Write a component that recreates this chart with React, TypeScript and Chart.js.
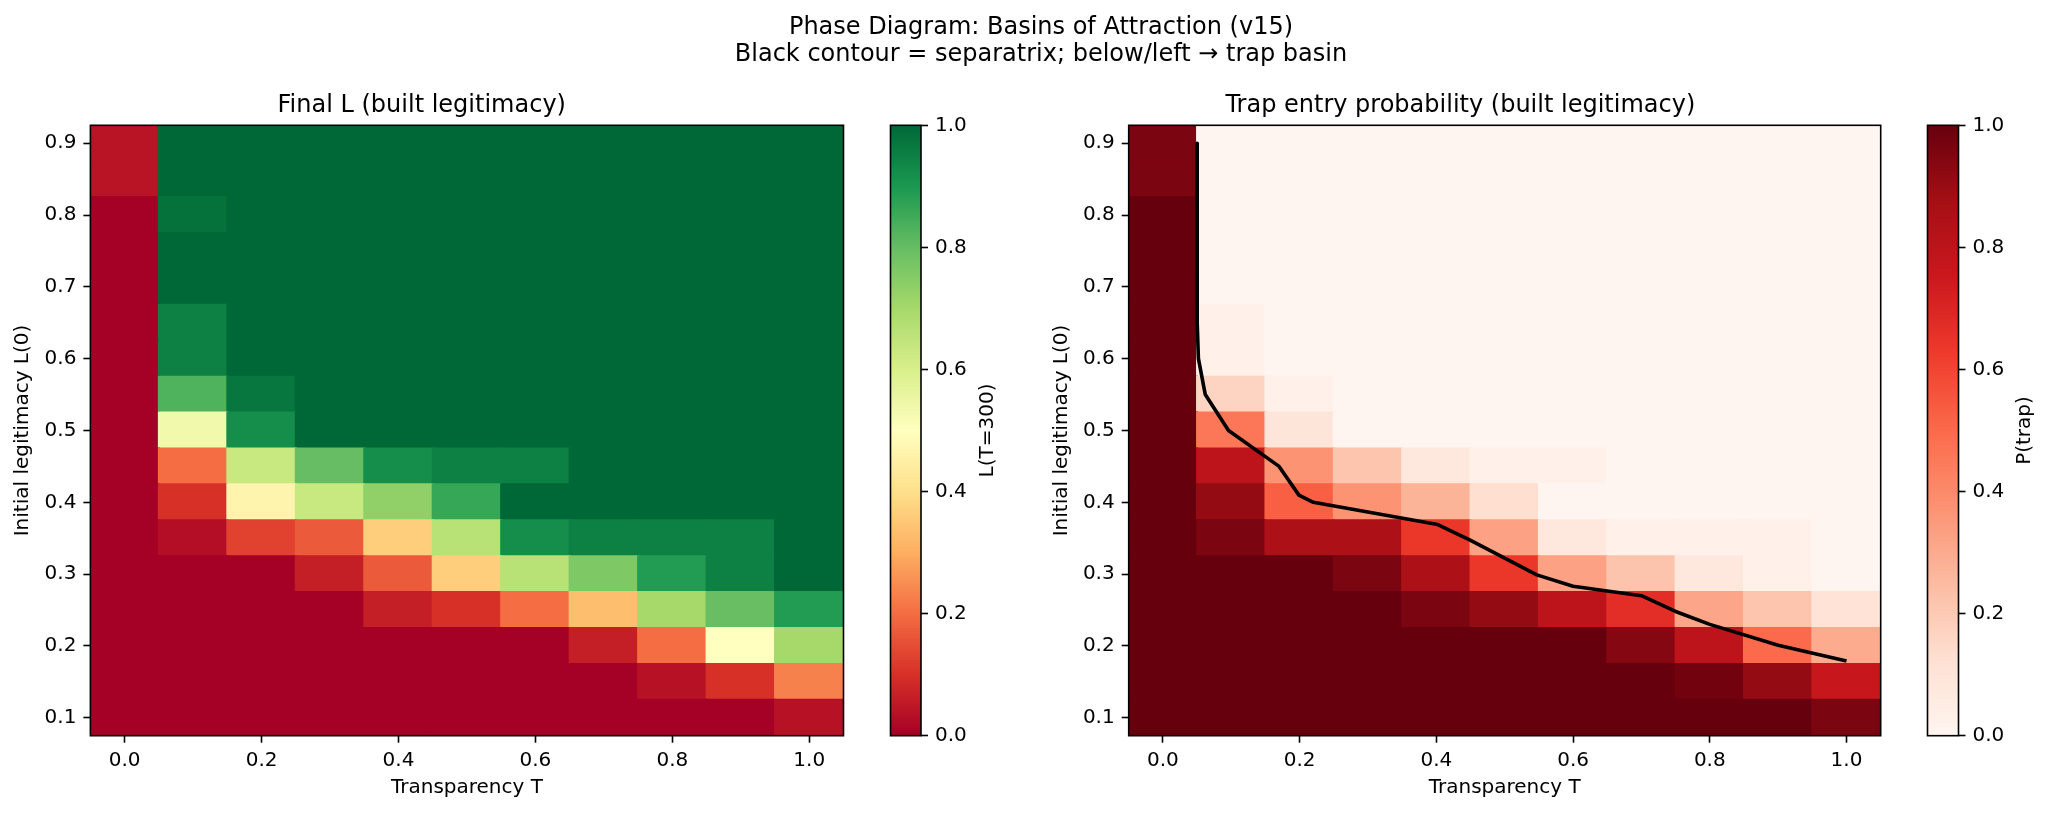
import React, { useEffect, useRef } from 'react';
import { Chart, registerables } from 'chart.js';

Chart.register(...registerables);

const FONT = "'DejaVu Sans', sans-serif";

// ---------- text ----------
const SUPTITLE_LINES = [
  'Phase Diagram: Basins of Attraction (v15)',
  'Black contour = separatrix; below/left \u2192 trap basin',
];
const LEFT_TITLE = 'Final L (built legitimacy)';
const RIGHT_TITLE = 'Trap entry probability (built legitimacy)';
const X_LABEL = 'Transparency T';
const Y_LABEL = 'Initial legitimacy L(0)';
const LEFT_CBAR_LABEL = 'L(T=300)';
const RIGHT_CBAR_LABEL = 'P(trap)';

// ---------- grid / ticks ----------
const T_VALUES = [0.0, 0.1, 0.2, 0.3, 0.4, 0.5, 0.6, 0.7, 0.8, 0.9, 1.0];
const L0_VALUES = [0.1, 0.15, 0.2, 0.25, 0.3, 0.35, 0.4, 0.45, 0.5, 0.55, 0.6, 0.65, 0.7, 0.75, 0.8, 0.85, 0.9];
const X_TICKS = [0.0, 0.2, 0.4, 0.6, 0.8, 1.0];
const Y_TICKS = [0.1, 0.2, 0.3, 0.4, 0.5, 0.6, 0.7, 0.8, 0.9];
const CBAR_TICKS = [0.0, 0.2, 0.4, 0.6, 0.8, 1.0];

// ---------- values (rows from L0 = 0.10 upward; columns T = 0.0 .. 1.0) ----------
const FINAL_L = [
  [0, 0, 0, 0, 0, 0, 0, 0, 0, 0, 0.035],
  [0, 0, 0, 0, 0, 0, 0, 0, 0.035, 0.1, 0.231],
  [0, 0, 0, 0, 0, 0, 0, 0.062, 0.2, 0.5, 0.7],
  [0, 0, 0, 0, 0.062, 0.1, 0.2, 0.332, 0.7, 0.795, 0.89],
  [0, 0, 0, 0.062, 0.169, 0.364, 0.665, 0.762, 0.89, 0.95, 1],
  [0, 0.03, 0.13, 0.169, 0.364, 0.665, 0.92, 0.95, 0.95, 0.95, 1],
  [0, 0.1, 0.465, 0.633, 0.733, 0.863, 1, 1, 1, 1, 1],
  [0, 0.2, 0.633, 0.8, 0.92, 0.95, 0.95, 1, 1, 1, 1],
  [0, 0.537, 0.92, 1, 1, 1, 1, 1, 1, 1, 1],
  [0, 0.83, 0.97, 1, 1, 1, 1, 1, 1, 1, 1],
  [0, 0.95, 1, 1, 1, 1, 1, 1, 1, 1, 1],
  [0, 0.95, 1, 1, 1, 1, 1, 1, 1, 1, 1],
  [0, 1, 1, 1, 1, 1, 1, 1, 1, 1, 1],
  [0, 1, 1, 1, 1, 1, 1, 1, 1, 1, 1],
  [0, 0.98, 1, 1, 1, 1, 1, 1, 1, 1, 1],
  [0.04, 1, 1, 1, 1, 1, 1, 1, 1, 1, 1],
  [0.04, 1, 1, 1, 1, 1, 1, 1, 1, 1, 1],
];

const P_TRAP = [
  [1, 1, 1, 1, 1, 1, 1, 1, 1, 1, 0.96],
  [1, 1, 1, 1, 1, 1, 1, 1, 0.98, 0.91, 0.76],
  [1, 1, 1, 1, 1, 1, 1, 0.94, 0.8, 0.5, 0.3],
  [1, 1, 1, 1, 0.96, 0.91, 0.8, 0.67, 0.317, 0.216, 0.107],
  [1, 1, 1, 0.96, 0.85, 0.64, 0.33, 0.22, 0.077, 0.03, 0],
  [1, 0.96, 0.85, 0.85, 0.64, 0.33, 0.077, 0.03, 0.03, 0.03, 0],
  [1, 0.91, 0.53, 0.37, 0.27, 0.13, 0, 0, 0, 0, 0],
  [1, 0.8, 0.37, 0.216, 0.077, 0.03, 0.03, 0, 0, 0, 0],
  [1, 0.46, 0.095, 0, 0, 0, 0, 0, 0, 0, 0],
  [1, 0.165, 0.03, 0, 0, 0, 0, 0, 0, 0, 0],
  [1, 0.03, 0, 0, 0, 0, 0, 0, 0, 0, 0],
  [1, 0.03, 0, 0, 0, 0, 0, 0, 0, 0, 0],
  [1, 0, 0, 0, 0, 0, 0, 0, 0, 0, 0],
  [1, 0, 0, 0, 0, 0, 0, 0, 0, 0, 0],
  [1, 0, 0, 0, 0, 0, 0, 0, 0, 0, 0],
  [0.96, 0, 0, 0, 0, 0, 0, 0, 0, 0, 0],
  [0.96, 0, 0, 0, 0, 0, 0, 0, 0, 0, 0],
];

// separatrix (P = 0.5 contour)
const CONTOUR_T = [0.05, 0.05, 0.05, 0.05, 0.05, 0.051, 0.052, 0.062, 0.096, 0.17, 0.199, 0.22, 0.402, 0.448, 0.547, 0.6, 0.7, 0.75, 0.8, 0.9, 1.0];
const CONTOUR_L = [0.9, 0.85, 0.8, 0.75, 0.7, 0.65, 0.6, 0.55, 0.5, 0.45, 0.41, 0.4, 0.369, 0.348, 0.299, 0.283, 0.27, 0.248, 0.23, 0.201, 0.179];

// ---------- colormaps ----------
const RDYLGN = ['#a50026', '#d73027', '#f46d43', '#fdae61', '#fee08b', '#ffffbf', '#d9ef8b', '#a6d96a', '#66bd63', '#1a9850', '#006837'];
const REDS = ['#fff5f0', '#fee0d2', '#fcbba1', '#fc9272', '#fb6a4a', '#ef3b2c', '#cb181d', '#a50f15', '#67000d'];

function hexToRgb(h: string) {
  return [parseInt(h.slice(1, 3), 16), parseInt(h.slice(3, 5), 16), parseInt(h.slice(5, 7), 16)];
}
function cmapColor(stops: string[], v: number) {
  const n = stops.length - 1;
  const t = Math.max(0, Math.min(1, v)) * n;
  const i = Math.min(n - 1, Math.floor(t));
  const f = t - i;
  const a = hexToRgb(stops[i]);
  const b = hexToRgb(stops[i + 1]);
  const c = a.map((x, k) => Math.round(x + (b[k] - x) * f));
  return `rgb(${c[0]},${c[1]},${c[2]})`;
}

// ---------- layout (pixels) ----------
const FIG_W = 2049;
const FIG_H = 814;
const AX_TOP = 125.3;
const AX_BOTTOM = 735.7;

const framePlugin = {
  id: 'frame',
  afterDraw(chart: any) {
    const { ctx, chartArea: a } = chart;
    ctx.save();
    ctx.strokeStyle = '#000';
    ctx.lineWidth = 1.6;
    ctx.strokeRect(a.left, a.top, a.right - a.left, a.bottom - a.top);
    ctx.restore();
  },
};

const tickGrid = {
  display: true,
  drawOnChartArea: false,
  drawTicks: true,
  tickLength: 7,
  tickWidth: 1.6,
  tickColor: '#000',
};

function makeHeatmap(p: {
  title: string;
  matrix: number[][];
  stops: string[];
  yAxisWidth: number;
  yTitlePad: number;
  padRight: number;
  contour?: boolean;
}) {
  const dT = T_VALUES[1] - T_VALUES[0];
  const dL = L0_VALUES[1] - L0_VALUES[0];
  const datasets: any[] = [];
  if (p.contour) {
    datasets.push({
      type: 'line',
      data: CONTOUR_T.map((t, i) => ({ x: t, y: CONTOUR_L[i] })),
      borderColor: '#000',
      borderWidth: 3.6,
      pointRadius: 0,
      tension: 0,
      fill: false,
      order: 0,
      borderJoinStyle: 'round',
    });
  }
  L0_VALUES.forEach((l0, r) => {
    datasets.push({
      type: 'bar',
      data: T_VALUES.map((t) => ({ x: t, y: [l0 - dL / 2, l0 + dL / 2] })),
      backgroundColor: p.matrix[r].map((v) => cmapColor(p.stops, v)),
      borderWidth: 0,
      inflateAmount: 1,
      barPercentage: 1,
      categoryPercentage: 1,
      grouped: false,
      order: 1,
    });
  });
  const tickFont = { family: FONT, size: 20 };
  return {
    type: 'bar',
    data: { datasets },
    options: {
      responsive: false,
      animation: false,
      devicePixelRatio: 1,
      events: [],
      layout: { padding: { left: 0, top: 0, right: p.padRight, bottom: 0 } },
      plugins: {
        legend: { display: false },
        tooltip: { enabled: false },
        title: {
          display: true,
          text: p.title,
          color: '#000',
          font: { family: FONT, size: 24, weight: 'normal' },
          padding: { top: 91.6, bottom: AX_TOP - 91.6 - 28.8 },
        },
      },
      scales: {
        x: {
          type: 'linear',
          position: 'bottom',
          offset: false,
          min: T_VALUES[0] - dT / 2,
          max: T_VALUES[T_VALUES.length - 1] + dT / 2,
          afterBuildTicks: (s: any) => {
            s.ticks = X_TICKS.map((v) => ({ value: v }));
          },
          afterFit: (s: any) => {
            s.height = FIG_H - AX_BOTTOM;
          },
          ticks: {
            autoSkip: false,
            maxRotation: 0,
            color: '#000',
            font: tickFont,
            padding: 6.5,
            callback: (v: any) => Number(v).toFixed(1),
          },
          grid: { ...tickGrid, offset: false },
          border: { display: false },
          title: { display: true, text: X_LABEL, color: '#000', font: tickFont, padding: { top: 0, bottom: 14 } },
        },
        y: {
          type: 'linear',
          position: 'left',
          min: L0_VALUES[0] - dL / 2,
          max: L0_VALUES[L0_VALUES.length - 1] + dL / 2,
          afterBuildTicks: (s: any) => {
            s.ticks = Y_TICKS.map((v) => ({ value: v }));
          },
          afterFit: (s: any) => {
            s.width = p.yAxisWidth;
          },
          ticks: {
            autoSkip: false,
            color: '#000',
            font: tickFont,
            padding: 7,
            callback: (v: any) => Number(v).toFixed(1),
          },
          grid: tickGrid,
          border: { display: false },
          title: { display: true, text: Y_LABEL, color: '#000', font: tickFont, padding: { top: p.yTitlePad, bottom: 0 } },
        },
      },
    },
    plugins: [framePlugin],
  } as any;
}

function makeColorbar(p: { stops: string[]; label: string; padLeft: number; padRight: number; labelOffset: number }) {
  const tickFont = { family: FONT, size: 20 };
  const labelPlugin = {
    id: 'cbarLabel',
    afterDraw(chart: any) {
      const { ctx, chartArea: a } = chart;
      ctx.save();
      ctx.fillStyle = '#000';
      ctx.font = `20px ${FONT}`;
      ctx.textAlign = 'center';
      ctx.textBaseline = 'middle';
      ctx.translate(a.right + p.labelOffset, (a.top + a.bottom) / 2);
      ctx.rotate(-Math.PI / 2);
      ctx.fillText(p.label, 0, 0);
      ctx.restore();
    },
  };
  return {
    type: 'bar',
    data: {
      labels: [''],
      datasets: [
        {
          data: [[CBAR_TICKS[0], CBAR_TICKS[CBAR_TICKS.length - 1]]],
          backgroundColor: (c: any) => {
            const chart = c.chart;
            if (!chart.chartArea) return p.stops[0];
            const ys = chart.scales.y;
            const g = chart.ctx.createLinearGradient(0, ys.getPixelForValue(0), 0, ys.getPixelForValue(1));
            p.stops.forEach((col, i) => g.addColorStop(i / (p.stops.length - 1), col));
            return g;
          },
          borderWidth: 0,
          barPercentage: 1,
          categoryPercentage: 1,
        },
      ],
    },
    options: {
      responsive: false,
      animation: false,
      devicePixelRatio: 1,
      events: [],
      layout: { padding: { left: p.padLeft, right: p.padRight, top: AX_TOP, bottom: FIG_H - AX_BOTTOM } },
      plugins: { legend: { display: false }, tooltip: { enabled: false }, title: { display: false } },
      scales: {
        x: { display: false },
        y: {
          position: 'right',
          min: 0,
          max: 1,
          afterBuildTicks: (s: any) => {
            s.ticks = CBAR_TICKS.map((v) => ({ value: v }));
          },
          afterFit: (s: any) => {
            s.width = 60;
          },
          ticks: { color: '#000', font: tickFont, padding: 7, callback: (v: any) => Number(v).toFixed(1) },
          grid: tickGrid,
          border: { display: false },
        },
      },
    },
    plugins: [framePlugin, labelPlugin],
  } as any;
}

function ChartBox(props: { left: number; top: number; width: number; height: number; make: () => any }) {
  const ref = useRef<HTMLCanvasElement | null>(null);
  useEffect(() => {
    const c = ref.current;
    if (!c) return;
    const chart = new Chart(c, props.make());
    return () => chart.destroy();
  }, []);
  return (
    <canvas
      ref={ref}
      width={props.width}
      height={props.height}
      style={{ position: 'absolute', left: props.left, top: props.top, width: props.width, height: props.height }}
    />
  );
}

export default function App() {
  const supStyle = (top: number): React.CSSProperties => ({
    position: 'absolute',
    left: 541,
    top,
    width: 1000,
    textAlign: 'center',
    fontFamily: FONT,
    fontSize: 24,
    lineHeight: '28px',
    color: '#000',
    whiteSpace: 'nowrap',
  });
  return (
    <div style={{ position: 'absolute', left: 0, top: 0, width: FIG_W, height: FIG_H, background: '#fff', overflow: 'hidden' }}>
      <ChartBox
        left={0}
        top={0}
        width={880}
        height={FIG_H}
        make={() => makeHeatmap({ title: LEFT_TITLE, matrix: FINAL_L, stops: RDYLGN, yAxisWidth: 90.4, yTitlePad: 11, padRight: 36.5 })}
      />
      <ChartBox
        left={860}
        top={0}
        width={180}
        height={FIG_H}
        make={() => makeColorbar({ stops: RDYLGN, label: LEFT_CBAR_LABEL, padLeft: 30.5, padRight: 59, labelOffset: 66.5 })}
      />
      <ChartBox
        left={1040}
        top={0}
        width={880}
        height={FIG_H}
        make={() =>
          makeHeatmap({ title: RIGHT_TITLE, matrix: P_TRAP, stops: REDS, yAxisWidth: 88.7, yTitlePad: 9.3, padRight: 39.3, contour: true })
        }
      />
      <ChartBox
        left={1900}
        top={0}
        width={149}
        height={FIG_H}
        make={() => makeColorbar({ stops: REDS, label: RIGHT_CBAR_LABEL, padLeft: 27.5, padRight: 30.5, labelOffset: 66.5 })}
      />
      <div style={supStyle(11.5)}>{SUPTITLE_LINES[0]}</div>
      <div style={supStyle(38.5)}>{SUPTITLE_LINES[1]}</div>
    </div>
  );
}
